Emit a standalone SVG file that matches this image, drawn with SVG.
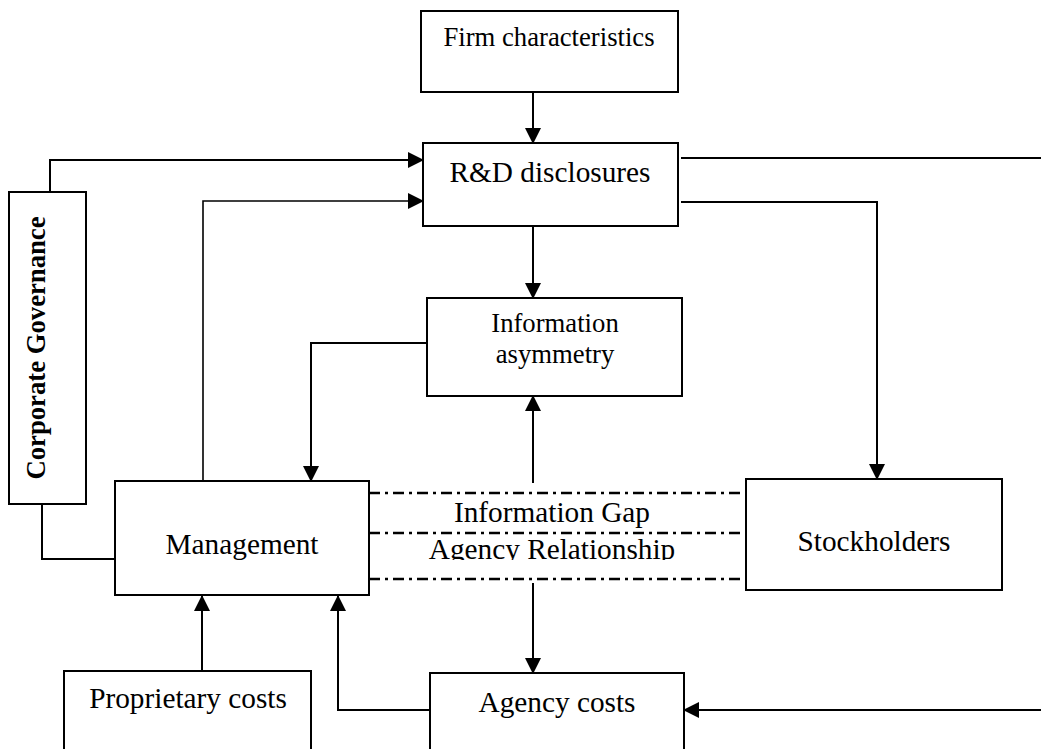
<svg xmlns="http://www.w3.org/2000/svg" width="1041" height="749" viewBox="0 0 1041 749">
  <style>
    .box { fill: #ffffff; stroke: #000000; stroke-width: 2; }
    .lbl { font-family: "Liberation Serif", "Times New Roman", serif; font-size: 29.3px; fill: #000000; text-anchor: middle; }
    .sm { font-size: 26.7px; }
    .bold { font-weight: bold; }
    .wire { fill: none; stroke: #000000; stroke-width: 2; }
    .thin { stroke-width: 1.6; }
    .arrow { marker-end: url(#head); }
    .dashdot { fill: none; stroke: #000000; stroke-width: 2.5; stroke-dasharray: 11 5 3 5; }
  </style>
  <defs>
    <marker id="head" markerUnits="userSpaceOnUse" markerWidth="16" markerHeight="16" viewBox="0 0 16 16" refX="15" refY="8" orient="auto">
      <path d="M0,0 L16,8 L0,16 Z" fill="#000000"/>
    </marker>
    <clipPath id="clipRel">
      <rect x="370" y="535" width="372" height="25"/>
    </clipPath>
  </defs>

  <rect width="1041" height="749" fill="#ffffff"/>

  <!-- connectors -->
  <g id="connectors">
    <path class="wire arrow" d="M533,92 V143"/>
    <path class="wire arrow" d="M50,192 V160 H423"/>
    <path class="wire thin arrow" d="M203,481 V201 H423"/>
    <path class="wire" d="M681,158 H1041"/>
    <path class="wire arrow" d="M681,202 H877 V479"/>
    <path class="wire arrow" d="M533,226 V298"/>
    <path class="wire arrow" d="M427,343 H311 V481"/>
    <path class="wire arrow" d="M533,483 V396"/>
    <path class="wire arrow" d="M533,583 V673"/>
    <path class="wire" d="M42,504 V559 H115"/>
    <path class="wire arrow" d="M202,671 V596"/>
    <path class="wire arrow" d="M430,710 H338 V596"/>
    <path class="wire arrow" d="M1041,710 H684"/>
    <path class="dashdot" d="M369,493 H743"/>
    <path class="dashdot" d="M369,533 H743"/>
    <path class="dashdot" d="M369,579 H743"/>
  </g>

  <!-- gap labels between management and stockholders -->
  <g id="gap-labels">
    <text class="lbl" x="552" y="522">Information Gap</text>
    <text class="lbl" x="552" y="559" clip-path="url(#clipRel)">Agency Relationship</text>
  </g>

  <g id="firm">
    <rect class="box" x="421" y="11" width="257" height="81"/>
    <text class="lbl sm" x="549" y="46">Firm characteristics</text>
  </g>

  <g id="rd">
    <rect class="box" x="423" y="143" width="255" height="83"/>
    <text class="lbl" x="550" y="182">R&amp;D disclosures</text>
  </g>

  <g id="asymmetry">
    <rect class="box" x="427" y="298" width="255" height="98"/>
    <text class="lbl sm" x="555" y="332">Information</text>
    <text class="lbl sm" x="555" y="363">asymmetry</text>
  </g>

  <g id="governance">
    <rect class="box" x="9" y="192" width="77" height="312"/>
    <text class="lbl sm bold" transform="translate(45,348) rotate(-90)">Corporate Governance</text>
  </g>

  <g id="management">
    <rect class="box" x="115" y="481" width="254" height="114"/>
    <text class="lbl" x="242" y="554">Management</text>
  </g>

  <g id="stockholders">
    <rect class="box" x="746" y="479" width="256" height="111"/>
    <text class="lbl" x="874" y="551">Stockholders</text>
  </g>

  <g id="proprietary">
    <rect class="box" x="64" y="671" width="247" height="100"/>
    <text class="lbl" x="188" y="708">Proprietary costs</text>
  </g>

  <g id="agency">
    <rect class="box" x="430" y="673" width="254" height="100"/>
    <text class="lbl" x="557" y="712">Agency costs</text>
  </g>
</svg>
